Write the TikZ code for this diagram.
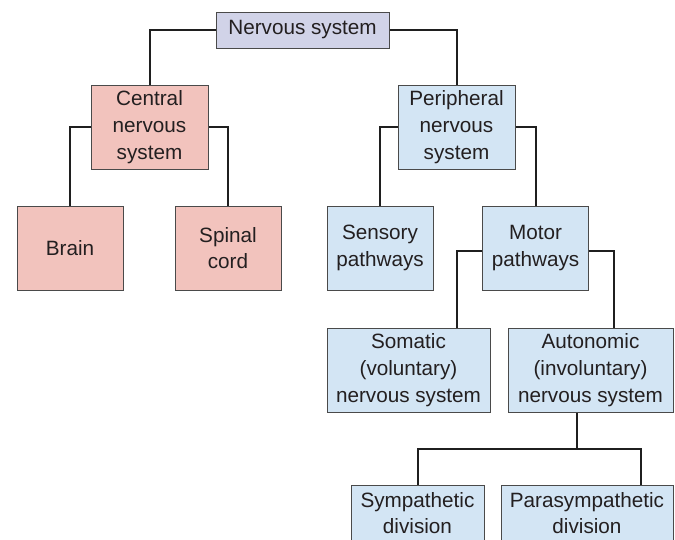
\documentclass[tikz,border=0pt]{standalone}
\usepackage{fontspec}
\setmainfont{Liberation Sans}
\usetikzlibrary{positioning}
\definecolor{nsfill}{HTML}{D1D3E8}
\definecolor{cnsfill}{HTML}{F2C3BD}
\definecolor{pnsfill}{HTML}{D3E5F4}
\definecolor{boxline}{HTML}{4A4A4A}
\definecolor{inktext}{HTML}{231F20}
\tikzset{
    box/.style={draw=boxline, line width=1pt, inner sep=0pt, align=center,
        text=inktext, font=\fontsize{20.7}{26.7}\selectfont, minimum height=84pt},
    cnsbox/.style={box, fill=cnsfill},
    pnsbox/.style={box, fill=pnsfill},
    link/.style={line width=2pt, draw=black!88},
}

\begin{document}
\begin{tikzpicture}[x=1pt,y=-1pt]
    \useasboundingbox (0,0) rectangle (675,539);
    \clip (0,0) rectangle (675,539);
    % Top level
    \node[box, fill=nsfill, minimum width=173pt, minimum height=36pt] (ns) at (302.5,30) {Nervous system};
    % Second level
    \node[cnsbox, minimum width=117pt] (cns) at (149.5,127) {Central\\nervous\\system};
    \node[pnsbox, minimum width=117pt] (pns) at (456.5,127) {Peripheral\\nervous\\system};
    % Third level
    \node[cnsbox, minimum width=106pt] (brain) at (70,248) {Brain};
    \node[cnsbox, minimum width=106pt] (spinal) at (228,248) {Spinal\\cord};
    \node[pnsbox, minimum width=106pt] (sensory) at (380,248) {Sensory\\pathways};
    \node[pnsbox, minimum width=106pt] (motor) at (535.5,248) {Motor\\pathways};
    % Motor branches
    \node[pnsbox, minimum width=163pt] (somatic) at (408.5,370) {Somatic\\(voluntary)\\nervous system};
    \node[pnsbox, minimum width=165pt] (autonomic) at (590.5,370) {Autonomic\\(involuntary)\\nervous system};
    % Autonomic branches
    \node[pnsbox, minimum width=133pt, minimum height=56pt] (sympathetic) at (417.5,513) {Sympathetic\\division};
    \node[pnsbox, minimum width=172pt, minimum height=56pt] (parasym) at (587,513) {Parasympathetic\\division};
    % Connectors
    \draw[link] (ns.west) -| (cns.north);
    \draw[link] (ns.east) -| (pns.north);
    \draw[link] (cns.west) -| (brain.north);
    \draw[link] (cns.east) -| (spinal.north);
    \draw[link] (pns.west) -| (sensory.north);
    \draw[link] (pns.east) -| (motor.north);
    \draw[link] ([yshift=-3pt]motor.west) -| ([xshift=48pt]somatic.north);
    \draw[link] ([yshift=-3pt]motor.east) -| ([xshift=23pt]autonomic.north);
    \coordinate (split) at ([xshift=-13.5pt,yshift=-36pt]autonomic.south);
    \draw[link] ([xshift=-13.5pt]autonomic.south) -- (split);
    \draw[link] (sympathetic.north) |- (split) -| ([xshift=54pt]parasym.north);
\end{tikzpicture}
\end{document}
